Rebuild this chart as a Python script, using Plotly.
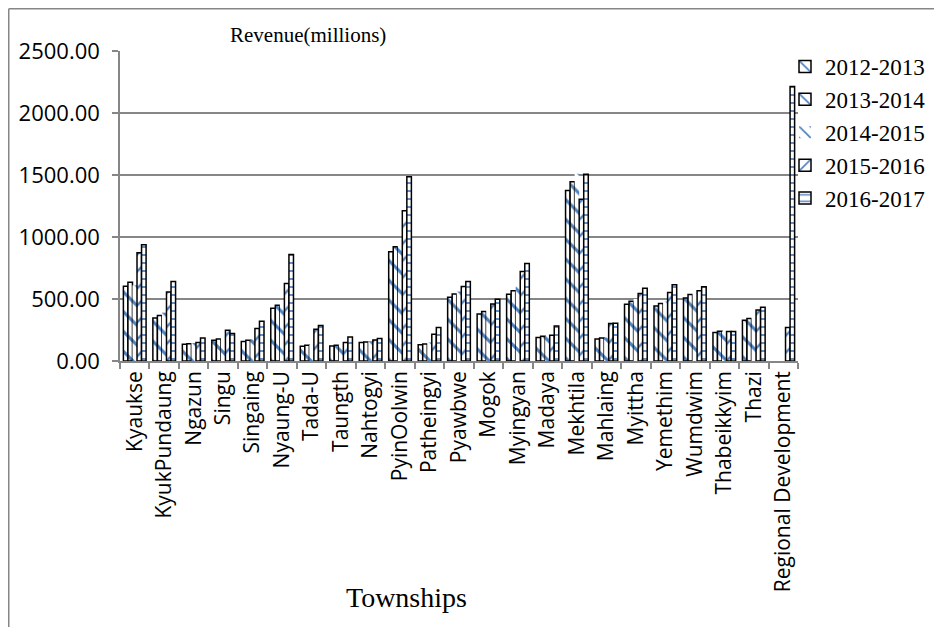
import plotly.graph_objects as go

townships = ["Kyaukse", "KyukPundaung", "Ngazun", "Singu", "Singaing", "Nyaung-U", "Tada-U",
             "Taungth", "Nahtogyi", "PyinOolwin", "Patheingyi", "Pyawbwe", "Mogok", "Myingyan",
             "Madaya", "Mekhtila", "Mahlaing", "Myittha", "Yemethim", "Wumdwim", "Thabeikkyim",
             "Thazi", "Regional Development"]

y2012_13 = [603, 347, 135, 167, 157, 426, 119, 120, 149, 881, 132, 515, 380, 539, 189, 1376, 178, 458, 444, 509, 229, 329, None]
y2013_14 = [636, 367, 140, 178, 167, 450, 127, 127, 154, 921, 138, 541, 399, 566, 199, 1446, 186, 482, 463, 536, 240, 342, None]
y2014_15 = [610, 390, 145, 190, 175, 470, 130, 135, 160, 930, 150, 560, 420, 600, 200, 1510, 190, 500, 480, 550, 238, 360, None]
y2015_16 = [872, 557, 149, 248, 262, 625, 256, 149, 170, 1212, 216, 601, 460, 722, 207, 1304, 302, 544, 552, 566, 237, 412, 270]
y2016_17 = [937, 641, 186, 221, 321, 859, 286, 194, 181, 1486, 270, 641, 498, 787, 283, 1506, 305, 587, 614, 598, 237, 434, 2214]

series_names = ["2012-2013", "2013-2014", "2014-2015", "2015-2016", "2016-2017"]
series_vals = [y2012_13, y2013_14, y2014_15, y2015_16, y2016_17]

BLUE = "#4F81BD"
styles = [
    dict(shape="\\", line=1.5, size=14, sol=0.22),
    dict(shape="\\", line=1.5, size=14, sol=0.22),
    dict(shape="\\", line=0, size=14, sol=0.22),
    dict(shape="/", line=1.5, size=12, sol=0.2),
    dict(shape="-", line=1.5, size=8, sol=0.22),
]

fig = go.Figure()
for name, vals, st in zip(series_names, series_vals, styles):
    fig.add_trace(go.Bar(
        x=townships, y=vals, name=name,
        marker=dict(
            color="white",
            line=dict(color="black", width=st["line"]),
            pattern=dict(shape=st["shape"], fgcolor=BLUE, bgcolor="white",
                         size=st["size"], solidity=st["sol"], fillmode="replace"),
        ),
    ))

serif = "Liberation Serif"
sans = "Open Sans"

L, T, W, H = 112, 43, 678, 310


def px(x_page):
    return (x_page - 8 - L) / W


def py(y_page):
    return (T + H - (y_page - 8)) / H


fig.update_layout(
    width=942, height=627,
    margin=dict(l=L, r=942 - L - W, t=T, b=627 - T - H, autoexpand=False),
    paper_bgcolor="white", plot_bgcolor="white",
    barmode="group", bargap=0.23, bargroupgap=0,
    showlegend=True,
    legend=dict(x=px(785), y=py(45), xanchor="left", yanchor="top",
                font=dict(family=serif, size=23, color="black"),
                bgcolor="rgba(0,0,0,0)", tracegroupgap=0, itemwidth=30),
    font=dict(family=sans, color="black"),
)

fig.update_yaxes(
    range=[0, 2500], dtick=500, tickformat=".2f",
    showgrid=True, gridcolor="#868686", gridwidth=1.5,
    showline=True, linecolor="#868686", linewidth=1.5,
    ticks="outside", ticklen=6, tickcolor="#868686", tickwidth=1.5,
    tickfont=dict(family=sans, size=22, color="black"),
    ticklabelstandoff=8,
    zeroline=False,
)
fig.update_xaxes(
    showline=True, linecolor="#868686", linewidth=1.5,
    ticks="outside", ticklen=6, tickcolor="#868686", tickwidth=1.5,
    tickson="boundaries", tickangle=-90,
    tickfont=dict(family=sans, size=21, color="black"),
    showgrid=False,
)

fig.add_annotation(text="Revenue(millions)", xref="paper", yref="paper",
                   x=px(308), y=py(35), xanchor="center", yanchor="middle",
                   showarrow=False, font=dict(family=serif, size=21, color="black"))
fig.add_annotation(text="Townships", xref="paper", yref="paper",
                   x=px(406), y=py(597), xanchor="center", yanchor="middle",
                   showarrow=False, font=dict(family=serif, size=28, color="black"))

# outer chart frame (top and left edges visible)
fx, fy = px(8.75), py(8.75)
fig.add_shape(type="line", xref="paper", yref="paper",
              x0=fx, x1=2, y0=fy, y1=fy,
              line=dict(color="#868686", width=1.5))
fig.add_shape(type="line", xref="paper", yref="paper",
              x0=fx, x1=fx, y0=fy, y1=-2,
              line=dict(color="#868686", width=1.5))

fig.write_html("out.html")
